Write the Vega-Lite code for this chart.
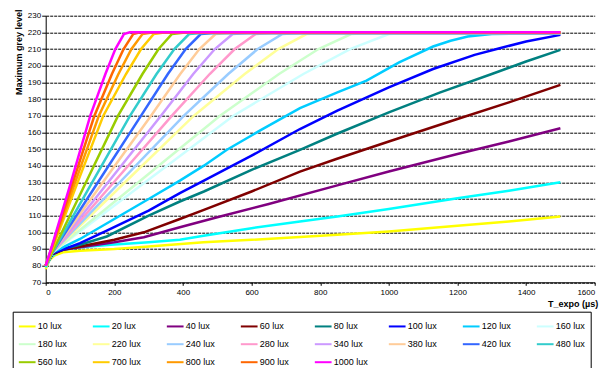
{
  "$schema": "https://vega.github.io/schema/vega-lite/v6.json",
  "width": 549,
  "height": 266.6,
  "autosize": {"type": "none"},
  "padding": {"left": 45.7, "top": 15.7, "right": 17.3, "bottom": 85.7},
  "background": "white",
  "config": {"view": {"stroke": null}},
  "data": {"values": [
    {"s":"10 lux","t":0,"v":78},{"s":"10 lux","t":10,"v":83},{"s":"10 lux","t":25,"v":86},{"s":"10 lux","t":50,"v":88},{"s":"10 lux","t":100,"v":89},{"s":"10 lux","t":200,"v":90},{"s":"10 lux","t":300,"v":91.5},{"s":"10 lux","t":460,"v":94},{"s":"10 lux","t":600,"v":95.5},{"s":"10 lux","t":850,"v":98.5},{"s":"10 lux","t":1000,"v":100.5},{"s":"10 lux","t":1200,"v":104},{"s":"10 lux","t":1350,"v":106.5},{"s":"10 lux","t":1500,"v":109.5},
    {"s":"20 lux","t":0,"v":79},{"s":"20 lux","t":15,"v":85},{"s":"20 lux","t":40,"v":89},{"s":"20 lux","t":100,"v":91},{"s":"20 lux","t":190,"v":92.5},{"s":"20 lux","t":300,"v":94},{"s":"20 lux","t":391,"v":95.5},{"s":"20 lux","t":460,"v":98},{"s":"20 lux","t":600,"v":102.5},{"s":"20 lux","t":741,"v":106.5},{"s":"20 lux","t":850,"v":109.5},{"s":"20 lux","t":1000,"v":114},{"s":"20 lux","t":1200,"v":120.5},{"s":"20 lux","t":1350,"v":125},{"s":"20 lux","t":1500,"v":130},
    {"s":"40 lux","t":0,"v":80},{"s":"40 lux","t":20,"v":87},{"s":"40 lux","t":50,"v":89.5},{"s":"40 lux","t":100,"v":91},{"s":"40 lux","t":200,"v":94},{"s":"40 lux","t":286,"v":97},{"s":"40 lux","t":391,"v":103},{"s":"40 lux","t":500,"v":109},{"s":"40 lux","t":650,"v":117},{"s":"40 lux","t":847,"v":128},{"s":"40 lux","t":1000,"v":136.5},{"s":"40 lux","t":1200,"v":147},{"s":"40 lux","t":1350,"v":154.5},{"s":"40 lux","t":1500,"v":162.5},
    {"s":"60 lux","t":0,"v":80},{"s":"60 lux","t":20,"v":87},{"s":"60 lux","t":50,"v":89.5},{"s":"60 lux","t":100,"v":91.5},{"s":"60 lux","t":200,"v":95.5},{"s":"60 lux","t":286,"v":100},{"s":"60 lux","t":391,"v":108},{"s":"60 lux","t":461,"v":113.5},{"s":"60 lux","t":600,"v":124.5},{"s":"60 lux","t":741,"v":136.4},{"s":"60 lux","t":847,"v":144},{"s":"60 lux","t":1000,"v":154.5},{"s":"60 lux","t":1200,"v":168},{"s":"60 lux","t":1350,"v":178},{"s":"60 lux","t":1500,"v":188.5},
    {"s":"80 lux","t":0,"v":80},{"s":"80 lux","t":20,"v":87.5},{"s":"80 lux","t":50,"v":90},{"s":"80 lux","t":100,"v":92.5},{"s":"80 lux","t":178,"v":97.5},{"s":"80 lux","t":300,"v":110},{"s":"80 lux","t":391,"v":118.5},{"s":"80 lux","t":461,"v":124.5},{"s":"80 lux","t":600,"v":137.5},{"s":"80 lux","t":741,"v":149.5},{"s":"80 lux","t":847,"v":159},{"s":"80 lux","t":1000,"v":172},{"s":"80 lux","t":1150,"v":184},{"s":"80 lux","t":1300,"v":195},{"s":"80 lux","t":1400,"v":202.5},{"s":"80 lux","t":1500,"v":209.5},
    {"s":"100 lux","t":0,"v":80},{"s":"100 lux","t":20,"v":87.5},{"s":"100 lux","t":55,"v":90},{"s":"100 lux","t":100,"v":93.5},{"s":"100 lux","t":178,"v":101},{"s":"100 lux","t":300,"v":113},{"s":"100 lux","t":391,"v":123.5},{"s":"100 lux","t":461,"v":131},{"s":"100 lux","t":600,"v":146},{"s":"100 lux","t":741,"v":162},{"s":"100 lux","t":850,"v":173},{"s":"100 lux","t":1000,"v":187},{"s":"100 lux","t":1129,"v":198},{"s":"100 lux","t":1250,"v":206.5},{"s":"100 lux","t":1323,"v":210.5},{"s":"100 lux","t":1400,"v":214.5},{"s":"100 lux","t":1500,"v":218.5},
    {"s":"120 lux","t":0,"v":80},{"s":"120 lux","t":20,"v":88},{"s":"120 lux","t":50,"v":91},{"s":"120 lux","t":100,"v":96},{"s":"120 lux","t":200,"v":108},{"s":"120 lux","t":300,"v":120},{"s":"120 lux","t":391,"v":131},{"s":"120 lux","t":461,"v":140},{"s":"120 lux","t":527,"v":149.4},{"s":"120 lux","t":624,"v":161},{"s":"120 lux","t":741,"v":174.5},{"s":"120 lux","t":850,"v":184},{"s":"120 lux","t":935,"v":191},{"s":"120 lux","t":1030,"v":202},{"s":"120 lux","t":1129,"v":211.5},{"s":"120 lux","t":1180,"v":215},{"s":"120 lux","t":1230,"v":217.5},{"s":"120 lux","t":1300,"v":219},{"s":"120 lux","t":1500,"v":219.5},
    {"s":"160 lux","t":0,"v":80},{"s":"160 lux","t":20,"v":88},{"s":"160 lux","t":283,"v":129},{"s":"160 lux","t":547,"v":170},{"s":"160 lux","t":751,"v":195},{"s":"160 lux","t":887,"v":210},{"s":"160 lux","t":1000,"v":219},{"s":"160 lux","t":1060,"v":219.6},{"s":"160 lux","t":1500,"v":219.6},
    {"s":"180 lux","t":0,"v":80},{"s":"180 lux","t":20,"v":88},{"s":"180 lux","t":264,"v":129},{"s":"180 lux","t":508,"v":170},{"s":"180 lux","t":680,"v":195},{"s":"180 lux","t":795,"v":210},{"s":"180 lux","t":890,"v":219},{"s":"180 lux","t":950,"v":219.6},{"s":"180 lux","t":1500,"v":219.6},
    {"s":"220 lux","t":0,"v":80},{"s":"220 lux","t":20,"v":88},{"s":"220 lux","t":226,"v":129},{"s":"220 lux","t":432,"v":170},{"s":"220 lux","t":580,"v":195},{"s":"220 lux","t":678,"v":210},{"s":"220 lux","t":760,"v":219},{"s":"220 lux","t":810,"v":219.6},{"s":"220 lux","t":1500,"v":219.6},
    {"s":"240 lux","t":0,"v":80},{"s":"240 lux","t":20,"v":88},{"s":"240 lux","t":211,"v":129},{"s":"240 lux","t":403,"v":170},{"s":"240 lux","t":532,"v":195},{"s":"240 lux","t":618,"v":210},{"s":"240 lux","t":690,"v":219},{"s":"240 lux","t":740,"v":219.6},{"s":"240 lux","t":1500,"v":219.6},
    {"s":"280 lux","t":0,"v":80},{"s":"280 lux","t":20,"v":88},{"s":"280 lux","t":194,"v":129},{"s":"280 lux","t":368,"v":170},{"s":"280 lux","t":478,"v":195},{"s":"280 lux","t":551,"v":210},{"s":"280 lux","t":612,"v":219},{"s":"280 lux","t":660,"v":219.6},{"s":"280 lux","t":1500,"v":219.6},
    {"s":"340 lux","t":0,"v":80},{"s":"340 lux","t":20,"v":88},{"s":"340 lux","t":178,"v":129},{"s":"340 lux","t":336,"v":170},{"s":"340 lux","t":430,"v":195},{"s":"340 lux","t":493,"v":210},{"s":"340 lux","t":545,"v":219},{"s":"340 lux","t":590,"v":219.6},{"s":"340 lux","t":1500,"v":219.6},
    {"s":"380 lux","t":0,"v":80},{"s":"380 lux","t":20,"v":88},{"s":"380 lux","t":163,"v":129},{"s":"380 lux","t":307,"v":170},{"s":"380 lux","t":392,"v":195},{"s":"380 lux","t":448,"v":210},{"s":"380 lux","t":495,"v":219},{"s":"380 lux","t":535,"v":219.6},{"s":"380 lux","t":1500,"v":219.6},
    {"s":"420 lux","t":0,"v":80},{"s":"420 lux","t":20,"v":88},{"s":"420 lux","t":149,"v":129},{"s":"420 lux","t":278,"v":170},{"s":"420 lux","t":356,"v":195},{"s":"420 lux","t":408,"v":210},{"s":"420 lux","t":452,"v":219},{"s":"420 lux","t":490,"v":219.6},{"s":"420 lux","t":1500,"v":219.6},
    {"s":"480 lux","t":0,"v":80},{"s":"480 lux","t":20,"v":88},{"s":"480 lux","t":133,"v":129},{"s":"480 lux","t":246,"v":170},{"s":"480 lux","t":323,"v":195},{"s":"480 lux","t":375,"v":210},{"s":"480 lux","t":418,"v":219},{"s":"480 lux","t":455,"v":219.6},{"s":"480 lux","t":1500,"v":219.6},
    {"s":"560 lux","t":0,"v":80},{"s":"560 lux","t":20,"v":88.5},{"s":"560 lux","t":115,"v":129},{"s":"560 lux","t":211,"v":170},{"s":"560 lux","t":282,"v":195},{"s":"560 lux","t":329,"v":210},{"s":"560 lux","t":368,"v":219},{"s":"560 lux","t":400,"v":219.7},{"s":"560 lux","t":1500,"v":219.7},
    {"s":"700 lux","t":0,"v":80},{"s":"700 lux","t":20,"v":90.5},{"s":"700 lux","t":95,"v":131},{"s":"700 lux","t":168,"v":170},{"s":"700 lux","t":234,"v":195},{"s":"700 lux","t":278,"v":210},{"s":"700 lux","t":315,"v":219},{"s":"700 lux","t":340,"v":219.8},{"s":"700 lux","t":1500,"v":219.8},
    {"s":"800 lux","t":0,"v":80},{"s":"800 lux","t":20,"v":91.5},{"s":"800 lux","t":85,"v":129.5},{"s":"800 lux","t":155,"v":170},{"s":"800 lux","t":212,"v":195},{"s":"800 lux","t":250,"v":210},{"s":"800 lux","t":282,"v":219},{"s":"800 lux","t":305,"v":219.8},{"s":"800 lux","t":1500,"v":219.8},
    {"s":"900 lux","t":0,"v":80},{"s":"900 lux","t":20,"v":92.5},{"s":"900 lux","t":80,"v":130.5},{"s":"900 lux","t":142,"v":170},{"s":"900 lux","t":193,"v":195},{"s":"900 lux","t":227,"v":210},{"s":"900 lux","t":255,"v":219},{"s":"900 lux","t":275,"v":220},{"s":"900 lux","t":1500,"v":220},
    {"s":"1000 lux","t":0,"v":80},{"s":"1000 lux","t":20,"v":93},{"s":"1000 lux","t":75,"v":131},{"s":"1000 lux","t":130,"v":170},{"s":"1000 lux","t":174,"v":195},{"s":"1000 lux","t":203,"v":210},{"s":"1000 lux","t":228,"v":219},{"s":"1000 lux","t":245,"v":220},{"s":"1000 lux","t":1500,"v":220}
  ]},
  "mark": {"type": "line", "strokeWidth": 2.5},
  "encoding": {
    "x": {
      "field": "t", "type": "quantitative",
      "scale": {"domain": [0, 1600], "nice": false},
      "axis": {
        "title": "T_expo (µs)",
        "values": [0, 200, 400, 600, 800, 1000, 1200, 1400, 1600],
        "format": "d",
        "grid": false,
        "domainColor": "black", "domainWidth": 1,
        "tickColor": "black", "tickSize": 3,
        "labelFont": "Liberation Sans", "labelFontSize": 8, "labelColor": "black", "labelPadding": 3,
        "titleFont": "Liberation Sans", "titleFontSize": 9, "titleFontWeight": "bold", "titleColor": "black",
        "titleAlign": "right", "titleBaseline": "middle", "titleX": 552, "titleY": 21
      }
    },
    "y": {
      "field": "v", "type": "quantitative",
      "scale": {"domain": [70, 230], "nice": false},
      "axis": {
        "title": "Maximum grey level",
        "values": [70, 80, 90, 100, 110, 120, 130, 140, 150, 160, 170, 180, 190, 200, 210, 220, 230],
        "grid": true, "gridColor": "black", "gridDash": [3, 1], "gridWidth": 1, "gridOpacity": 1,
        "domainColor": "black", "domainWidth": 1,
        "tickColor": "black", "tickSize": 4,
        "labelFont": "Liberation Sans", "labelFontSize": 8, "labelColor": "black", "labelPadding": 1,
        "titleFont": "Liberation Sans", "titleFontSize": 9, "titleFontWeight": "bold", "titleColor": "black",
        "titleAlign": "center", "titleX": -22, "titleY": 36
      }
    },
    "color": {
      "field": "s", "type": "nominal",
      "scale": {
        "domain": ["10 lux","20 lux","40 lux","60 lux","80 lux","100 lux","120 lux","160 lux","180 lux","220 lux","240 lux","280 lux","340 lux","380 lux","420 lux","480 lux","560 lux","700 lux","800 lux","900 lux","1000 lux"],
        "range": ["#FFFF00","#00FFFF","#800080","#800000","#008080","#0000FF","#00CCFF","#CCFFFF","#CCFFCC","#FFFF99","#99CCFF","#FF99CC","#CC99FF","#FFCC99","#3366FF","#33CCCC","#99CC00","#FFCC00","#FF9900","#FF6600","#FF00FF"]
      },
      "legend": {
        "title": null,
        "orient": "none", "legendX": -33, "legendY": 296,
        "direction": "horizontal", "columns": 8, "gridAlign": "all",
        "columnPadding": 16, "rowPadding": 3,
        "symbolType": "stroke", "symbolSize": 280, "symbolStrokeWidth": 2,
        "labelFont": "Liberation Sans", "labelFontSize": 9, "labelColor": "black", "labelOffset": 1,
        "strokeColor": "black", "padding": 5, "fillColor": "white"
      }
    }
  }
}
